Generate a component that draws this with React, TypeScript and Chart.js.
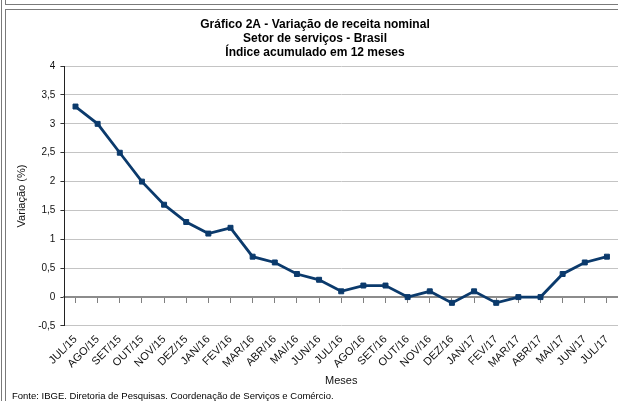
import React, { useEffect, useRef } from "react";
import { Chart, registerables } from "chart.js";

Chart.register(...registerables);

const titleLines = [
  "Gráfico 2A - Variação de receita nominal",
  "Setor de serviços - Brasil",
  "Índice acumulado em 12 meses",
];
const yAxisTitle = "Variação (%)";
const xAxisTitle = "Meses";
const footerText = "Fonte: IBGE. Diretoria de Pesquisas. Coordenação de Serviços e Comércio.";

const months = [
  "JUL/15", "AGO/15", "SET/15", "OUT/15", "NOV/15", "DEZ/15",
  "JAN/16", "FEV/16", "MAR/16", "ABR/16", "MAI/16", "JUN/16",
  "JUL/16", "AGO/16", "SET/16", "OUT/16", "NOV/16", "DEZ/16",
  "JAN/17", "FEV/17", "MAR/17", "ABR/17", "MAI/17", "JUN/17", "JUL/17",
];
const variacao = [
  3.3, 3.0, 2.5, 2.0, 1.6, 1.3,
  1.1, 1.2, 0.7, 0.6, 0.4, 0.3,
  0.1, 0.2, 0.2, 0.0, 0.1, -0.1,
  0.1, -0.1, 0.0, 0.0, 0.4, 0.6, 0.7,
];
const yMin = -0.5;
const yMax = 4;
const yStep = 0.5;

const FONT = "'Liberation Sans', Arial, sans-serif";
const LINE_COLOR = "#0b3a6c";

export default function App() {
  const canvasRef = useRef<HTMLCanvasElement | null>(null);

  useEffect(() => {
    const canvas = canvasRef.current;
    if (!canvas) return;
    const chart = new Chart(canvas, {
      type: "line",
      data: {
        labels: months,
        datasets: [
          {
            label: "Variação",
            data: variacao,
            borderColor: LINE_COLOR,
            backgroundColor: LINE_COLOR,
            borderWidth: 2.8,
            pointStyle: "rect",
            pointRadius: 3.5,
            pointBorderWidth: 1,
            pointBorderColor: LINE_COLOR,
            pointBackgroundColor: LINE_COLOR,
            tension: 0,
            fill: false,
          },
        ],
      },
      options: {
        responsive: false,
        animation: false,
        devicePixelRatio: 1,
        layout: { padding: { left: 0, right: 16, top: 0, bottom: 0 } },
        plugins: {
          legend: { display: false },
          tooltip: { enabled: false },
          title: {
            display: true,
            text: titleLines,
            color: "#000",
            font: { family: FONT, size: 12, weight: "bold", lineHeight: 1.17 },
            padding: { top: 7, bottom: 6 },
          },
          subtitle: {
            display: true,
            text: footerText,
            position: "bottom",
            align: "start",
            color: "#000",
            font: { family: FONT, size: 9.5, lineHeight: 1.2 },
            padding: { top: 2, bottom: 4 },
          },
        },
        scales: {
          x: {
            type: "category",
            offset: true,
            position: "bottom",
            grid: { display: false, drawTicks: false },
            border: { display: false },
            ticks: {
              autoSkip: false,
              minRotation: 45,
              maxRotation: 45,
              padding: 7,
              color: "#111",
              font: { family: FONT, size: 11 },
            },
            title: {
              display: true,
              text: xAxisTitle,
              color: "#111",
              font: { family: FONT, size: 11 },
              padding: { top: -3, bottom: 1 },
            },
          },
          x0: {
            type: "category",
            axis: "x",
            offset: true,
            position: { y: 0 },
            grid: {
              display: true,
              drawOnChartArea: false,
              drawTicks: true,
              tickLength: 5,
              color: "#808080",
              tickColor: "#808080",
              lineWidth: 1,
            },
            border: { display: true, color: "#8c8c8c", width: 2 },
            ticks: { display: false, autoSkip: false },
          },
          y: {
            type: "linear",
            min: yMin,
            max: yMax,
            ticks: {
              stepSize: yStep,
              padding: 5,
              color: "#111",
              font: { family: FONT, size: 10 },
              callback: (v: any) => String(Number(v)).replace(".", ","),
            },
            grid: {
              color: (ctx: any) =>
                ctx.tick && ctx.tick.value === 0 ? "rgba(0,0,0,0)" : "#c4c4c4",
              lineWidth: 1,
              borderDash: [2, 3],
              tickColor: "#333",
              tickBorderDash: [],
              tickLength: 4,
            },
            border: { display: true, color: "#222", width: 1 },
            title: {
              display: true,
              text: yAxisTitle,
              color: "#111",
              font: { family: FONT, size: 11 },
              padding: { top: 3, bottom: 5 },
            },
          },
        },
      },
    } as any);
    return () => chart.destroy();
  }, []);

  const line = (style: React.CSSProperties) => (
    <div style={{ position: "absolute", background: "#7a7a7a", ...style }} />
  );

  return (
    <div
      style={{
        position: "fixed",
        left: 0,
        top: 0,
        width: 618,
        height: 401,
        overflow: "hidden",
        background: "#fff",
      }}
    >
      {line({ left: 1, top: 0, width: 1, height: 401 })}
      {line({ left: 5, top: 0, width: 1, height: 4 })}
      {line({ left: 5, top: 9, width: 1, height: 392 })}
      {line({ left: 5, top: 4, width: 613, height: 1 })}
      {line({ left: 5, top: 9, width: 613, height: 1 })}
      <canvas
        ref={canvasRef}
        width={622}
        height={395}
        style={{ position: "absolute", left: 12, top: 11, width: 622, height: 395 }}
      />
    </div>
  );
}
